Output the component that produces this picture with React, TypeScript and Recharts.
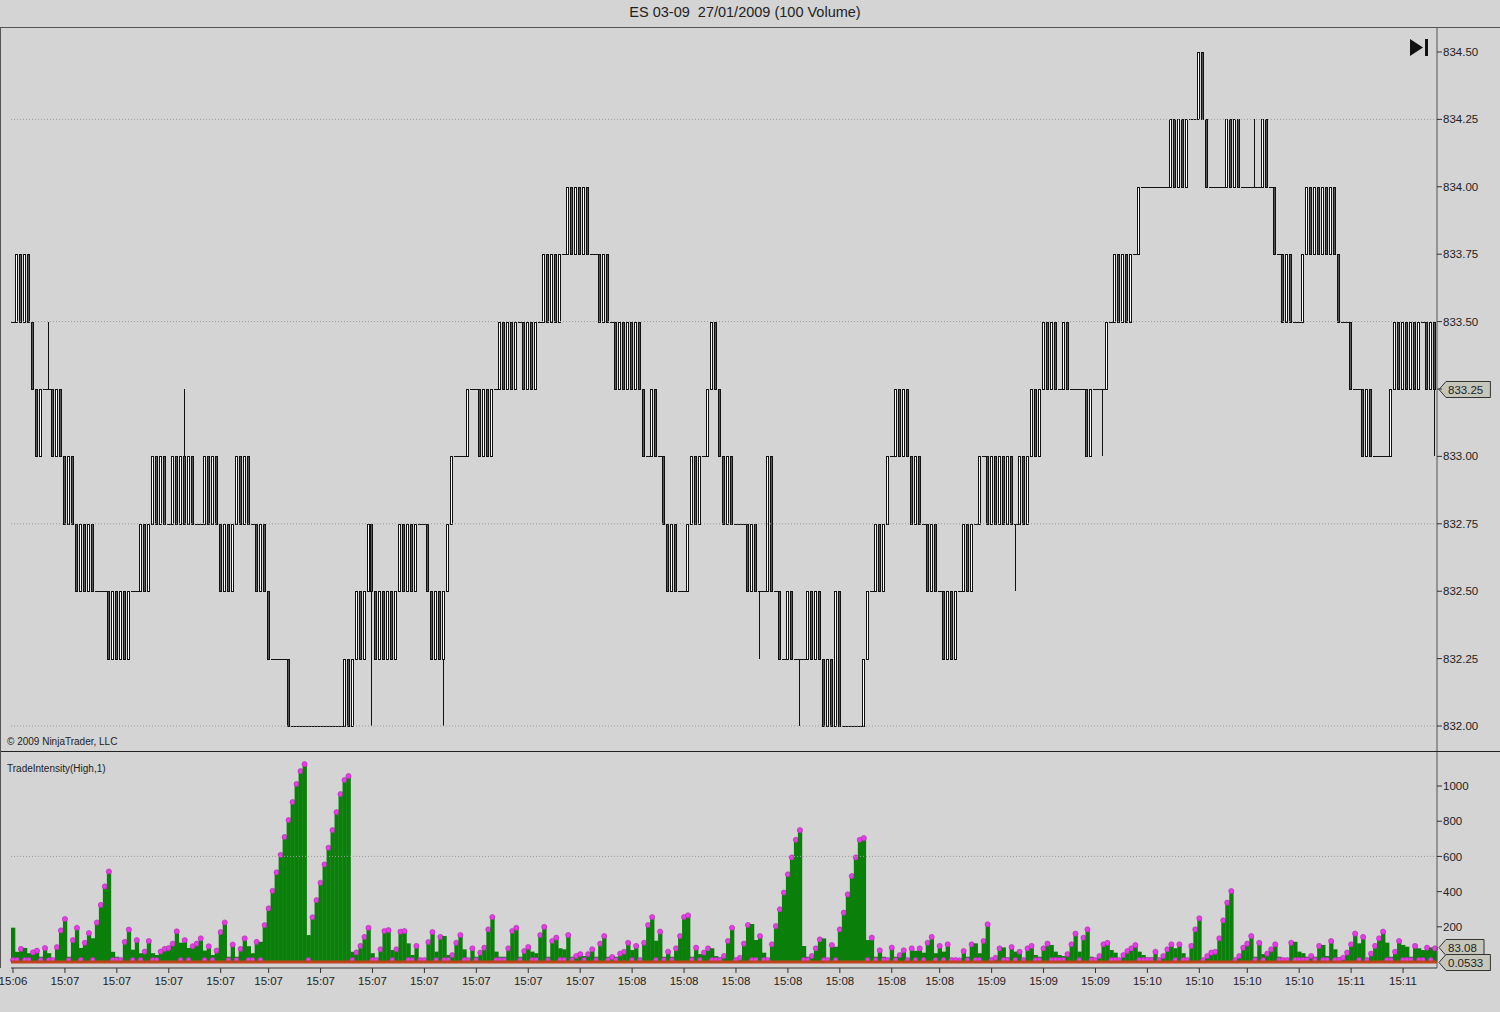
import React from "react"
import { ComposedChart, Bar, XAxis, YAxis, ReferenceLine } from "recharts"

// price path, in ticks of 0.25 above 832.00 (one close per 100-volume bar)
const BASE_PRICE = 832
const TICK = 0.25
const firstOpenTick = 6
const closeTicks = [
  6, 7, 6, 7, 6, 5, 4, 5, 5, 5, 4, 5, 4, 3, 4, 3, 2, 3, 2, 3,
  2, 2, 2, 2, 1, 2, 1, 2, 1, 2, 2, 2, 3, 2, 3, 4, 3, 4, 3, 3,
  4, 3, 4, 3, 4, 3, 3, 3, 4, 3, 4, 3, 2, 3, 2, 3, 4, 3, 4, 3,
  3, 2, 3, 2, 1, 1, 1, 1, 1, 0, 0, 0, 0, 0, 0, 0, 0, 0, 0, 0,
  0, 0, 0, 1, 0, 1, 2, 1, 2, 3, 2, 1, 2, 1, 2, 1, 2, 3, 2, 3,
  2, 3, 3, 3, 2, 1, 2, 1, 2, 3, 4, 4, 4, 4, 5, 5, 5, 4, 5, 4,
  5, 5, 6, 5, 6, 5, 6, 6, 5, 6, 5, 6, 6, 7, 6, 7, 6, 7, 7, 8,
  7, 8, 7, 8, 7, 7, 7, 6, 7, 6, 6, 5, 6, 5, 6, 5, 6, 5, 4, 4,
  5, 4, 4, 3, 2, 3, 2, 2, 2, 3, 4, 3, 4, 4, 5, 6, 5, 4, 3, 4,
  3, 3, 3, 3, 2, 3, 2, 2, 2, 4, 2, 2, 1, 1, 2, 1, 1, 1, 1, 2,
  1, 2, 1, 0, 1, 0, 2, 0, 0, 0, 0, 0, 0, 1, 2, 2, 3, 2, 3, 4,
  4, 5, 4, 5, 4, 3, 4, 3, 3, 2, 3, 2, 2, 1, 2, 1, 2, 2, 3, 2,
  3, 3, 4, 4, 3, 4, 3, 4, 3, 4, 3, 3, 4, 3, 4, 5, 4, 5, 6, 5,
  6, 5, 5, 6, 5, 5, 5, 5, 5, 4, 5, 5, 5, 5, 6, 6, 7, 6, 7, 6,
  7, 7, 8, 8, 8, 8, 8, 8, 8, 8, 9, 8, 9, 8, 9, 9, 9, 10, 9, 8,
  8, 8, 8, 8, 9, 8, 9, 8, 8, 8, 8, 8, 8, 9, 8, 8, 7, 7, 6, 7,
  6, 6, 6, 7, 8, 7, 8, 7, 8, 7, 8, 7, 6, 6, 6, 5, 5, 5, 4, 5,
  4, 4, 4, 4, 4, 5, 6, 5, 6, 5, 6, 5, 6, 6, 5, 6, 5,
]

// bars whose wick reaches past the body
const wickBars = [9, 43, 90, 108, 187, 197, 251, 273, 311, 356]
const wickLowTicks = [5, 3, 0, 0, 1, 0, 2, 4, 8, 4]
const wickHighTicks = [6, 5, 3, 2, 2, 1, 3, 5, 9, 6]

// TradeIntensity(High,1) histogram
const intensity = [
  195, 58, 80, 80, 50, 60, 70, 30, 85, 50, 10, 90, 185, 250, 30, 130, 200, 80, 115, 170,
  135, 230, 330, 435, 520, 58, 30, 20, 120, 190, 70, 130, 50, 65, 125, 50, 40, 65, 80, 85,
  110, 180, 110, 130, 80, 95, 110, 140, 65, 95, 40, 70, 175, 230, 30, 105, 30, 80, 140, 90,
  50, 120, 115, 215, 310, 410, 515,
  614, 716, 812, 915, 1017, 1090, 1130, 153, 260, 357, 456, 560, 655, 755, 857, 960, 1040, 1062, 58, 60,
  97, 148, 200, 50, 15, 78, 182, 187, 68, 78, 178, 182, 106, 40, 97, 20, 11, 119, 176, 59,
  148, 148, 40, 45, 115, 159, 72, 20, 83, 30, 59, 87, 191, 261, 59, 30, 30, 83, 182, 200,
  30, 68, 91, 59, 50, 159, 205, 30, 125, 144, 78, 72, 159, 30, 40, 50, 34, 50, 78, 30,
  110, 153, 30, 34, 30, 53, 64, 115, 68, 97, 15, 115, 216, 261, 121, 178, 30, 64, 30, 83,
  153, 261, 271, 30, 87, 45, 59, 83, 78,
  34, 26, 40, 125, 200, 20, 30, 110, 216, 216, 125, 153, 53, 20, 106, 210, 305, 400, 504, 600,
  700, 755, 91, 30, 40, 83, 134, 134, 20, 102, 87, 191, 286, 390, 494, 600, 700, 710, 125, 144,
  30, 72, 30, 20, 87, 30, 45, 72, 11, 83, 64, 83, 53, 115, 148, 50, 97, 59, 106, 20,
  11, 15, 68, 30, 106, 106, 50, 125, 220, 20, 30, 83, 83, 26, 91, 59, 64, 15, 83, 97,
  40, 30, 83, 110, 97, 59, 40, 34, 50,
  106, 167, 59, 144, 191, 30, 20, 40, 106, 115, 68, 53, 15, 45, 68, 83, 102, 59, 40, 26,
  26, 64, 20, 40, 78, 106, 78, 106, 50, 15, 97, 191, 254, 20, 40, 59, 64, 140, 242, 343,
  409, 20, 40, 87, 110, 153, 30, 115, 45, 53, 78, 106, 30, 20, 20, 115, 115, 59, 50, 30,
  40, 30, 97, 97, 34, 125, 72, 26, 30, 59, 106, 167, 106, 148, 15, 53, 97, 140, 178, 110,
  30, 64, 125, 97, 87, 30, 97, 78, 68, 87, 83, 83.08,
]

const priceTicks = [832, 832.25, 832.5, 832.75, 833, 833.25, 833.5, 833.75, 834, 834.25, 834.5]
const priceGrid = [832, 832.75, 833.5, 834.25]
const intensityTicks = [200, 400, 600, 800, 1000]
const lastPrice = 833.25
const lastIntensity = 83.08
const lastFloor = 0.0533

const timeTickBars = [0, 13, 26, 39, 52, 64, 77, 90, 103, 116, 129, 142, 155, 168, 181, 194, 207, 220, 232, 245, 258, 271, 284, 297, 309, 322, 335, 348]
const timeTickLabels = [
  "15:06", "15:07", "15:07", "15:07", "15:07", "15:07", "15:07", "15:07", "15:07", "15:07", "15:07", "15:07",
  "15:08", "15:08", "15:08", "15:08", "15:08", "15:08", "15:08",
  "15:09", "15:09", "15:09",
  "15:10", "15:10", "15:10", "15:10",
  "15:11", "15:11",
]

const rows = closeTicks.map((c, i) => {
  const o = i === 0 ? firstOpenTick : closeTicks[i - 1]
  let lo = Math.min(o, c)
  let hi = Math.max(o, c)
  const w = wickBars.indexOf(i)
  if (w >= 0) {
    lo = Math.min(lo, wickLowTicks[w])
    hi = Math.max(hi, wickHighTicks[w])
  }
  const low = BASE_PRICE + lo * TICK
  const high = BASE_PRICE + hi * TICK
  return {
    i,
    open: BASE_PRICE + o * TICK,
    close: BASE_PRICE + c * TICK,
    low,
    high,
    range: [low, high],
    intensity: intensity[i],
    prevIntensity: i === 0 ? Infinity : intensity[i - 1],
  }
})

const FONT = "'Liberation Sans', Arial, sans-serif"
const BG = "#d4d4d4"

function Candle(props: any) {
  const { x, y, width, height, payload } = props
  if (x == null || y == null) return <g />
  const top = Math.min(y, y + height)
  const bottom = Math.max(y, y + height)
  const { low, high, open, close } = payload
  const toY = (p: number) => (high === low ? top : bottom - ((p - low) / (high - low)) * (bottom - top))
  const x0 = Math.round(x)
  const x1 = Math.round(x + width)
  const cx = x0 + 1.5
  const yo = toY(open)
  const yc = toY(close)
  const parts = []
  if (high !== low) {
    parts.push(<line key="w" x1={cx} x2={cx} y1={Math.round(toY(high))} y2={Math.round(toY(low))} stroke="#111" strokeWidth={1} />)
  }
  if (open === close) {
    const yy = Math.round(yo) + 0.5
    parts.push(<line key="d" x1={x0} x2={x1} y1={yy} y2={yy} stroke="#111" strokeWidth={1} />)
  } else {
    const t = Math.round(Math.min(yo, yc)) + 0.5
    const b = Math.round(Math.max(yo, yc)) + 0.5
    parts.push(
      <rect key="b" x={x0 + 0.5} y={t} width={2} height={b - t}
        fill={close > open ? "#ffffff" : "#555555"} stroke="#111" strokeWidth={1} />
    )
  }
  return <g shapeRendering="crispEdges">{parts}</g>
}

function IntensityBar(props: any) {
  const { x, y, width, height, payload } = props
  if (x == null || y == null) return <g />
  const base = y + height
  const cx = x + width / 2
  const rising = payload.intensity > payload.prevIntensity
  return (
    <g>
      <rect x={x} y={y} width={width + 0.3} height={Math.max(height, 0)} fill="#0a800a" />
      <circle cx={cx} cy={rising ? y + 1 : base - 2} r={2.6} fill="#e33ee3" stroke="#b52ab5" strokeWidth={0.6} />
    </g>
  )
}

function ValueTag(props: any) {
  const { viewBox, text } = props
  if (!viewBox) return null
  const x = viewBox.x + viewBox.width + 2
  const y = Math.round(viewBox.y) + 0.5
  const w = text.length * 6.4 + 6
  return (
    <g>
      <path d={`M${x},${y} L${x + 7},${y - 8} L${x + 7 + w},${y - 8} L${x + 7 + w},${y + 8} L${x + 7},${y + 8} Z`}
        fill="#c6c6bb" stroke="#333" strokeWidth={1} />
      <text x={x + 9} y={y + 4} fontSize={11.5} fontFamily={FONT} fill="#222">{text}</text>
    </g>
  )
}

function TimeTick(props: any) {
  const { x, y, payload } = props
  const k = timeTickBars.indexOf(payload.value)
  if (k < 0) return <g />
  return (
    <g>
      <line x1={x} x2={x} y1={y} y2={y + 5} stroke="#333" />
      <text x={x} y={y + 17} textAnchor="middle" fontSize={11.5} fontFamily={FONT} fill="#222">{timeTickLabels[k]}</text>
    </g>
  )
}

const axisTick = { fontSize: 11.5, fontFamily: FONT, fill: "#222" }

export default function App() {
  return (
    <div style={{ position: "absolute", left: 0, top: 0, width: 1500, height: 1012, background: BG, overflow: "hidden", fontFamily: FONT }}>
      <div style={{ position: "absolute", left: 0, top: 4, width: 1490, textAlign: "center", fontSize: 14.5, color: "#222", whiteSpace: "pre" }}>
        ES 03-09  27/01/2009 (100 Volume)
      </div>

      {/* price panel */}
      <div style={{ position: "absolute", left: 0, top: 27 }}>
        <ComposedChart width={1500} height={724} data={rows} margin={{ top: 0, right: 0, bottom: 0, left: 11 }} barCategoryGap={0} barGap={0}>
          <XAxis dataKey="i" hide />
          <YAxis orientation="right" domain={[831.9073, 834.5927]} ticks={priceTicks} allowDataOverflow width={63}
            tickFormatter={(v: number) => (v === lastPrice ? "" : v.toFixed(2))} tick={axisTick} tickSize={5} tickMargin={1}
            axisLine={{ stroke: "#555" }} tickLine={{ stroke: "#333" }} interval={0} />
          {priceGrid.map((p) => (
            <ReferenceLine key={p} y={p} stroke="#9c9c9c" strokeDasharray="1 2" />
          ))}
          <Bar dataKey="range" shape={<Candle />} isAnimationActive={false} />
          <ReferenceLine y={lastPrice} stroke="none" strokeOpacity={0} label={<ValueTag text="833.25" />} />
        </ComposedChart>
      </div>

      {/* indicator panel */}
      <div style={{ position: "absolute", left: 0, top: 751 }}>
        <ComposedChart width={1500} height={257} data={rows} margin={{ top: 0, right: 0, bottom: 0, left: 11 }} barCategoryGap={0} barGap={0}>
          <XAxis dataKey="i" interval={0} tick={<TimeTick />} tickLine={false} tickSize={0} tickMargin={0}
            axisLine={{ stroke: "#333" }} height={40} />
          <YAxis orientation="right" domain={[-34, 1199]} ticks={intensityTicks} allowDataOverflow width={63}
            tick={axisTick} tickSize={5} tickMargin={1} axisLine={{ stroke: "#555" }} tickLine={{ stroke: "#333" }} interval={0} />
          <ReferenceLine y={600} stroke="#9c9c9c" strokeDasharray="1 2" />
          <ReferenceLine y={lastFloor} stroke="#c0441c" strokeWidth={3} />
          <Bar dataKey="intensity" shape={<IntensityBar />} isAnimationActive={false} />
          <ReferenceLine y={lastIntensity} stroke="none" strokeOpacity={0} label={<ValueTag text="83.08" />} />
          <ReferenceLine y={lastFloor} stroke="none" strokeOpacity={0} label={<ValueTag text="0.0533" />} />
        </ComposedChart>
      </div>

      {/* frame lines */}
      <div style={{ position: "absolute", left: 0, top: 27, width: 1500, height: 1, background: "#555" }} />
      <div style={{ position: "absolute", left: 0, top: 751, width: 1500, height: 1, background: "#222" }} />
      <div style={{ position: "absolute", left: 0, top: 27, width: 1, height: 941, background: "#555" }} />

      <div style={{ position: "absolute", left: 7, top: 736, fontSize: 10, color: "#222" }}>© 2009 NinjaTrader, LLC</div>
      <div style={{ position: "absolute", left: 7, top: 763, fontSize: 10, color: "#222" }}>TradeIntensity(High,1)</div>

      <svg style={{ position: "absolute", left: 1408, top: 37 }} width={26} height={22}>
        <path d="M2,2 L15,10.5 L2,19 Z" fill="#111" />
        <rect x={17} y={2} width={3} height={17} fill="#111" />
      </svg>
    </div>
  )
}
